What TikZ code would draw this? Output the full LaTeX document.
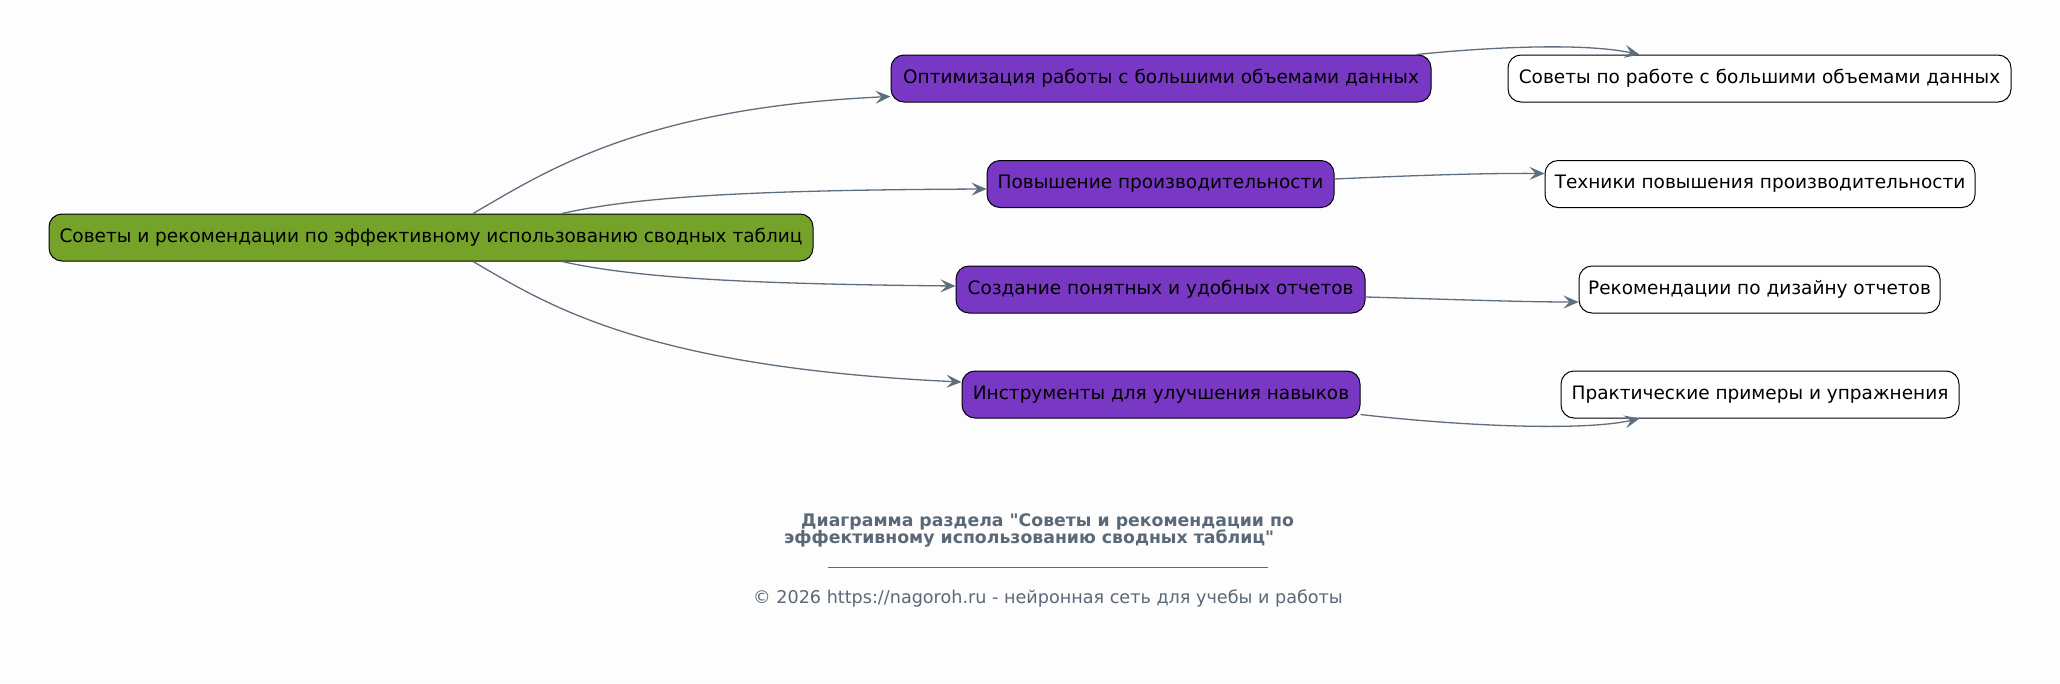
\documentclass[tikz,border=0pt]{standalone}
\usepackage{fontspec}
\setmainfont{DejaVu Sans}
\newfontfamily\ttlfont{DejaVu Sans}[Ligatures=TeXOff]
\usetikzlibrary{arrows.meta}
\definecolor{bg}{HTML}{FDFDFD}
\definecolor{rootg}{HTML}{75A32A}
\definecolor{purp}{HTML}{7838C4}
\definecolor{edgec}{HTML}{5F6E7D}
\definecolor{titlec}{HTML}{5A6878}
\begin{document}
\begin{tikzpicture}[x=1pt,y=-1pt,
  box/.style={draw=black, line width=1pt, rounded corners=13pt, minimum height=47pt,
    inner sep=0pt, font=\fontsize{18.5}{22}\selectfont, text=black},
  rootbox/.style={box, fill=rootg},
  midbox/.style={box, fill=purp},
  leafbox/.style={box, fill=white},
  edge/.style={draw=edgec, line width=1.3pt, -{Stealth[length=15pt,width=13pt,inset=6pt]}},
  ttl/.style={text=titlec, font=\ttlfont\fontsize{17.3}{20}\selectfont\bfseries, inner sep=0pt},
  copy/.style={text=titlec, font=\fontsize{17.6}{20}\selectfont, inner sep=0pt}]
\fill[bg] (0,0) rectangle (2060,683);
\useasboundingbox (0,0) rectangle (2060,683);

\node[rootbox, minimum width=764pt] (root) at (431,237.5) {Советы и рекомендации по эффективному использованию сводных таблиц};

\node[midbox, minimum width=540pt] (p1) at (1161,78.5) {Оптимизация работы с большими объемами данных};
\node[midbox, minimum width=347pt] (p2) at (1160.5,184) {Повышение производительности};
\node[midbox, minimum width=409pt] (p3) at (1160.5,289.5) {Создание понятных и удобных отчетов};
\node[midbox, minimum width=398pt] (p4) at (1161,394.5) {Инструменты для улучшения навыков};

\node[leafbox, minimum width=503pt] (w1) at (1759.5,78.5) {Советы по работе с большими объемами данных};
\node[leafbox, minimum width=430pt] (w2) at (1760,184) {Техники повышения производительности};
\node[leafbox, minimum width=361pt] (w3) at (1759.5,289.5) {Рекомендации по дизайну отчетов};
\node[leafbox, minimum width=398pt] (w4) at (1760,394.5) {Практические примеры и упражнения};

\draw[edge] ([xshift=42pt]root.north) .. controls (545,172) and (640,108) .. ([yshift=-18pt]p1.west);
\draw[edge] ([xshift=131pt]root.north) .. controls (640,196) and (760,190) .. ([yshift=-5pt]p2.west);
\draw[edge] ([xshift=131pt]root.south) .. controls (640,279) and (760,284) .. ([yshift=3.5pt]p3.west);
\draw[edge] ([xshift=42pt]root.south) .. controls (545,303) and (640,367) .. ([yshift=12.5pt]p4.west);

\draw[edge] ([xshift=-15pt]p1.north east) .. controls (1480,48) and (1580,42) .. ([xshift=132pt]w1.north west);
\draw[edge] ([yshift=5pt]p2.east) .. controls (1400,176) and (1480,173) .. ([yshift=10.5pt]w2.west);
\draw[edge] ([yshift=-7.5pt]p3.east) .. controls (1440,299) and (1520,302) .. ([yshift=-12.5pt]w3.west);
\draw[edge] ([yshift=-20pt]p4.east) .. controls (1450,425) and (1580,432) .. ([xshift=79pt]w4.south west);

\node[ttl, anchor=west] (t1) at (801,521.6) {Диаграмма раздела "Советы и рекомендации по};
\node[ttl, anchor=west] (t2) at (784,538.7) {эффективному использованию сводных таблиц"};
\coordinate (r1) at (828,567.5);
\coordinate (r2) at (1268,567.5);
\draw[titlec, line width=1pt] (r1) -- (r2);
\node[copy] (cp) at (1048,598) {© 2026 https://nagoroh.ru - нейронная сеть для учебы и работы};
\end{tikzpicture}
\end{document}
